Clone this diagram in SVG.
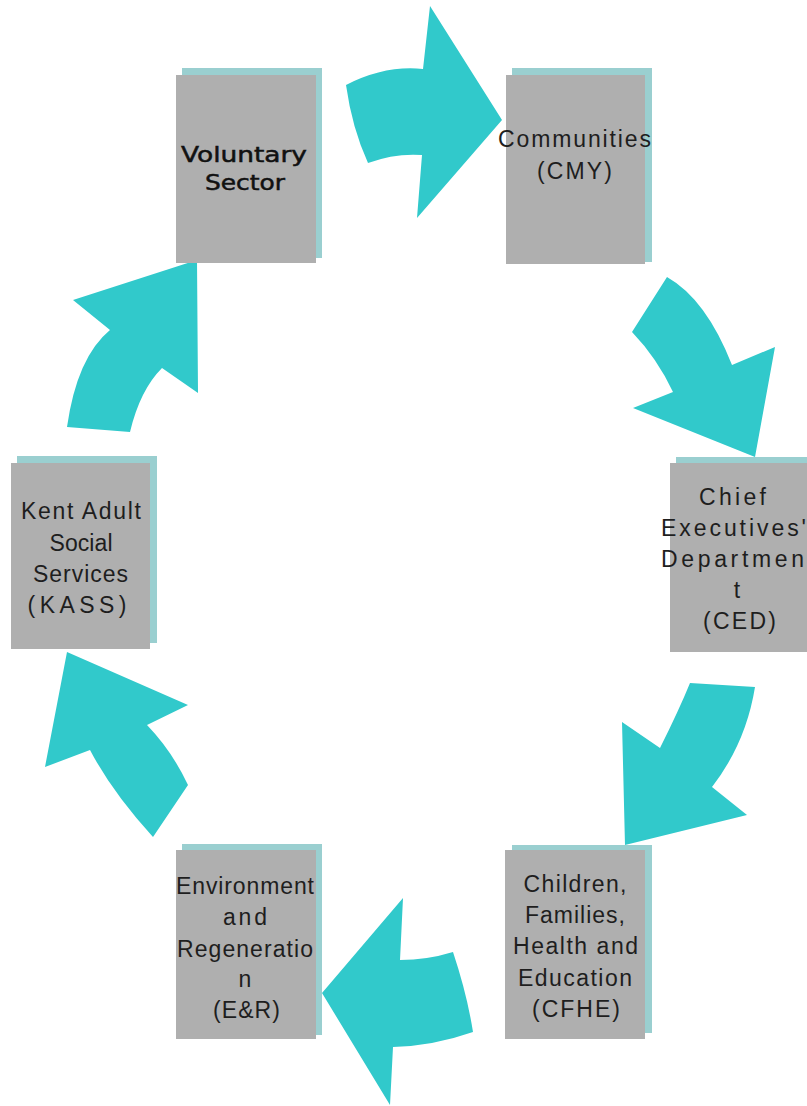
<svg xmlns="http://www.w3.org/2000/svg" width="807" height="1106" viewBox="0 0 807 1106">
<style>
.arrow{fill:#31c9cb;stroke:none}
.shadow{fill:#9acfd0}
.box{fill:#afafaf}
.t{font-family:"Liberation Sans",Arial,sans-serif;font-size:23px;fill:#1e1e1e;text-anchor:middle}
.tb{font-family:"DejaVu Sans",Verdana,sans-serif;font-size:21px;fill:#111111;stroke:#111111;stroke-width:0.5;text-anchor:middle}
</style>
<rect width="807" height="1106" fill="#ffffff"/>
<g id="connectors">
<path class="arrow" d="M346,85 Q385,65 423,69 L430,6 L502,120 L417,218 L422,155 Q395,153 368,163 Q352,128 346,85 Z"/>
<path class="arrow" d="M667,277 Q706,299 732,365 L775,347 L755,457 L633,408 L673,392 Q657,358 632,332 Z"/>
<path class="arrow" d="M690,683 L755,687 Q746,743 712,787 L747,815 L625,845 L622,722 L660,748 Q679,710 690,683 Z"/>
<path class="arrow" d="M403,898 L400,960 Q427,960 453,952 Q467,994 473,1032 Q433,1046 393,1047 L390,1105 L322,993 Z"/>
<path class="arrow" d="M67,652 L188,705 L147,725 Q172,751 188,785 L153,837 Q112,792 90,750 L45,767 Z"/>
<path class="arrow" d="M197,260 L198,393 L162,368 Q140,390 130,432 L67,427 Q77,357 110,330 L73,300 Z"/>
</g>
<g id="node-voluntary">
<rect class="shadow" x="182" y="68" width="140" height="190"/>
<rect class="box" x="176" y="75" width="140" height="188"/>
<text class="tb" x="244" y="162" textLength="126" lengthAdjust="spacingAndGlyphs">Voluntary</text>
<text class="tb" x="245" y="190" textLength="80" lengthAdjust="spacingAndGlyphs">Sector</text>
</g>
<g id="node-cmy">
<rect class="shadow" x="512" y="68" width="140" height="194"/>
<rect class="box" x="506" y="75" width="139" height="189"/>
<text class="t" x="574.5" y="147" textLength="153" lengthAdjust="spacing">Communities</text>
<text class="t" x="574.5" y="179" textLength="75" lengthAdjust="spacing">(CMY)</text>
</g>
<g id="node-ced">
<rect class="shadow" x="676" y="457" width="140" height="190"/>
<rect class="box" x="670" y="463" width="140" height="189"/>
<text class="t" x="732.5" y="505" textLength="67" lengthAdjust="spacing">Chief</text>
<text class="t" x="733.5" y="536" textLength="145" lengthAdjust="spacing">Executives'</text>
<text class="t" x="732.5" y="567" textLength="143" lengthAdjust="spacing">Departmen</text>
<text class="t" x="737" y="598">t</text>
<text class="t" x="739.5" y="629" textLength="73" lengthAdjust="spacing">(CED)</text>
</g>
<g id="node-cfhe">
<rect class="shadow" x="512" y="845" width="140" height="188"/>
<rect class="box" x="505" y="850" width="140" height="189"/>
<text class="t" x="575" y="892" textLength="103" lengthAdjust="spacing">Children,</text>
<text class="t" x="575" y="923" textLength="100" lengthAdjust="spacing">Families,</text>
<text class="t" x="575.5" y="954" textLength="125" lengthAdjust="spacing">Health and</text>
<text class="t" x="575" y="986" textLength="114" lengthAdjust="spacing">Education</text>
<text class="t" x="576" y="1017" textLength="88" lengthAdjust="spacing">(CFHE)</text>
</g>
<g id="node-er">
<rect class="shadow" x="182" y="844" width="140" height="191"/>
<rect class="box" x="176" y="850" width="140" height="189"/>
<text class="t" x="245" y="894" textLength="138" lengthAdjust="spacing">Environment</text>
<text class="t" x="245" y="925" textLength="44" lengthAdjust="spacing">and</text>
<text class="t" x="245" y="957" textLength="136" lengthAdjust="spacing">Regeneratio</text>
<text class="t" x="245" y="987">n</text>
<text class="t" x="246.5" y="1018" textLength="67" lengthAdjust="spacing">(E&amp;R)</text>
</g>
<g id="node-kass">
<rect class="shadow" x="17" y="456" width="140" height="187"/>
<rect class="box" x="11" y="463" width="139" height="186"/>
<text class="t" x="81" y="519" textLength="120" lengthAdjust="spacing">Kent Adult</text>
<text class="t" x="81" y="551" textLength="63" lengthAdjust="spacing">Social</text>
<text class="t" x="80.5" y="582" textLength="95" lengthAdjust="spacing">Services</text>
<text class="t" x="77" y="613" textLength="99" lengthAdjust="spacing">(KASS)</text>
</g>
</svg>
